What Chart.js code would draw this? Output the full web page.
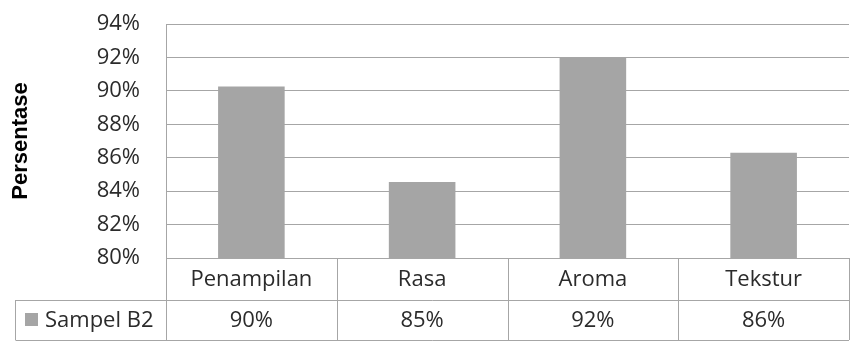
<!DOCTYPE html>
<html>
<head>
<meta charset="utf-8">
<script src="https://cdn.jsdelivr.net/npm/chart.js@4.4.0/dist/chart.umd.min.js"></script>
<style>
  html, body { margin: 0; padding: 0; background: #ffffff; }
  #wrap { width: 865px; height: 341px; }
</style>
</head>
<body>
<div id="wrap"><canvas id="chart" width="865" height="341"></canvas></div>
<script>
const categories = ["Penampilan", "Rasa", "Aroma", "Tekstur"];
const seriesName = "Sampel B2";
const sampelB2 = [90.26, 84.55, 91.97, 86.29];
const yTicks = [80, 82, 84, 86, 88, 90, 92, 94];

const barColor = "#a5a5a5";
const lineColor = "#a6a6a6";
const textColor = "#2b2b2b";
const fontFamily = "'Open Sans', Lato, sans-serif";

// draws the data table under the plot, like the Excel one
const dataTable = {
  id: "dataTable",
  afterDraw(chart) {
    const c = chart.ctx;
    const area = chart.chartArea;
    const xs = chart.scales.x;
    const n = categories.length;
    const w = area.width / n;
    const row1 = area.bottom;
    const row2 = row1 + 42;
    const row3 = row2 + 40;
    const legendLeft = 15.5;

    c.save();
    c.strokeStyle = lineColor;
    c.lineWidth = 1;
    c.beginPath();
    c.moveTo(area.left, row1 + 0.5);
    c.lineTo(area.right, row1 + 0.5);
    c.moveTo(legendLeft, row2 + 0.5);
    c.lineTo(area.right, row2 + 0.5);
    c.moveTo(legendLeft, row3 + 0.5);
    c.lineTo(area.right, row3 + 0.5);
    c.moveTo(legendLeft, row2);
    c.lineTo(legendLeft, row3);
    for (let i = 0; i <= n; i++) {
      const x = Math.round(area.left + i * w) + 0.5;
      c.moveTo(x, i === 0 ? area.top : row1);
      c.lineTo(x, row3);
    }
    c.stroke();

    c.fillStyle = textColor;
    c.font = "22px " + fontFamily;
    c.textAlign = "center";
    c.textBaseline = "middle";
    categories.forEach((cat, i) => {
      const cx = xs.getPixelForValue(i);
      c.fillText(cat, cx, (row1 + row2) / 2 + 1);
      c.fillText(Math.round(sampelB2[i]) + "%", cx, (row2 + row3) / 2 + 1);
    });

    // legend key
    c.fillStyle = barColor;
    c.fillRect(25, 313, 13, 13);
    c.fillStyle = textColor;
    c.textAlign = "left";
    c.fillText(seriesName, 45, (row2 + row3) / 2 + 1);
    c.restore();
  }
};

new Chart(document.getElementById("chart"), {
  type: "bar",
  data: {
    labels: categories,
    datasets: [
      {
        label: seriesName,
        data: sampelB2,
        backgroundColor: barColor,
        borderWidth: 0,
        categoryPercentage: 1,
        barPercentage: 0.39
      }
    ]
  },
  options: {
    responsive: false,
    animation: false,
    layout: {
      padding: { left: 0, right: 16, top: 24, bottom: 83 }
    },
    plugins: {
      legend: { display: false },
      tooltip: { enabled: false }
    },
    scales: {
      x: {
        display: false
      },
      y: {
        min: 80,
        max: 94,
        afterFit(scale) {
          scale.width = 166;
          scale.paddingTop = 0;
          scale.paddingBottom = 0;
        },
        afterBuildTicks(scale) {
          scale.ticks = yTicks.map(v => ({ value: v }));
        },
        ticks: {
          padding: 26,
          color: textColor,
          font: { family: fontFamily, size: 22 },
          callback: v => v + "%"
        },
        grid: {
          color: lineColor,
          drawTicks: false
        },
        border: {
          display: true,
          color: lineColor
        },
        title: {
          display: true,
          text: "Persentase",
          color: "#000000",
          padding: { top: 8, bottom: 0 },
          font: { family: "'Liberation Sans', Arial, sans-serif", size: 22, weight: "bold" }
        }
      }
    }
  },
  plugins: [dataTable]
});
</script>
</body>
</html>
